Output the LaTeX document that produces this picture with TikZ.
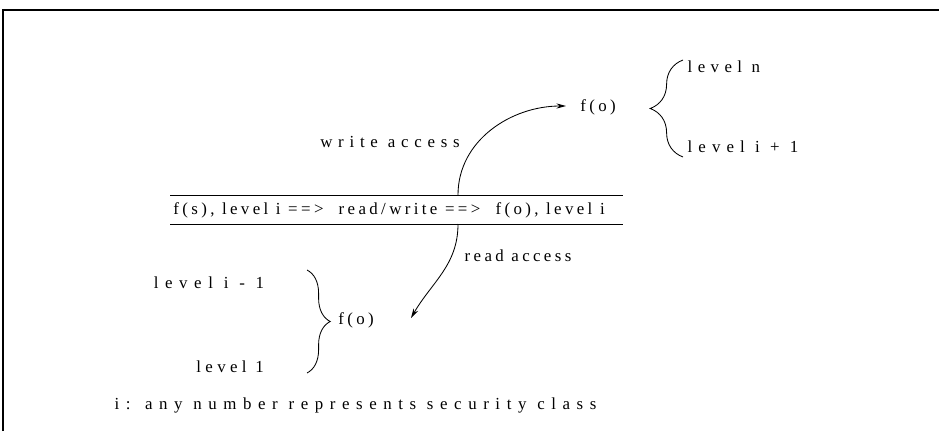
\documentclass[tikz,border=0pt]{standalone}
\usepackage{fontspec}
\setmainfont{Liberation Serif}[LetterSpace=20]
\usetikzlibrary{decorations.pathreplacing,arrows.meta}
\tikzset{
	lbl/.style={inner sep=1pt, font=\fontsize{12}{14}\selectfont},
	spaced/.style={font=\fontsize{12}{14}\selectfont\addfontfeatures{LetterSpace=#1}},
	acc/.style={line width=0.6pt, -{Stealth[length=2.4mm,width=1.3mm]}},
	brc/.style={line width=0.6pt, decorate, decoration={brace, amplitude=#1}}
}

\begin{document}
\begin{tikzpicture}[x=0.25mm, y=0.25mm]
		%%%%% START %%%%%
		\useasboundingbox (0, 0) rectangle (939, 431);
		
		\draw[line width=1.1pt] (3, 0) -- (3, 421) -- (939, 421);
		
		\node[lbl] (rw) at (389, 221) {f(s), level i ==>\ \ read/write ==>\ \ f(o), level i};
		\draw[line width=0.7pt] (170, 236) -- (623, 236);
		\draw[line width=0.7pt] (170, 207) -- (623, 207);
		\coordinate (wfrom) at (458, 236);
		\coordinate (rfrom) at (458, 207);
		\coordinate (wto) at (566, 325);
		\coordinate (rto) at (411, 113);
		
		\node[lbl] (fohi) at (598, 324) {f(o)};
		\node[lbl, spaced=34] (wlbl) at (390, 289) {write access};
		\draw[acc] (wfrom) to[out=90, in=180] (wto);
		
		\draw[brc=8.2mm] (683, 274) -- (683, 371);
		\node[lbl, spaced=32, anchor=west] (lvn) at (686, 364) {level n};
		\node[lbl, spaced=36, anchor=west] (lvi) at (686, 284) {level i + 1};
		
		\node[lbl] (folo) at (356, 111) {f(o)};
		\node[lbl] (rlbl) at (518, 175) {read access};
		\draw[acc] (rfrom) to[out=-90, in=60] (rto);
		
		\draw[brc=5.8mm] (307, 161) -- (307, 58);
		\node[lbl, spaced=39] (lvim) at (209, 148) {level i - 1};
		\node[lbl, spaced=26] (lvo) at (230, 64) {level 1};
		
		\node[lbl, spaced=39, anchor=west] (note) at (113, 26) {i: any number represents security class};
		%%%%% END %%%%%
\end{tikzpicture}
\end{document}
